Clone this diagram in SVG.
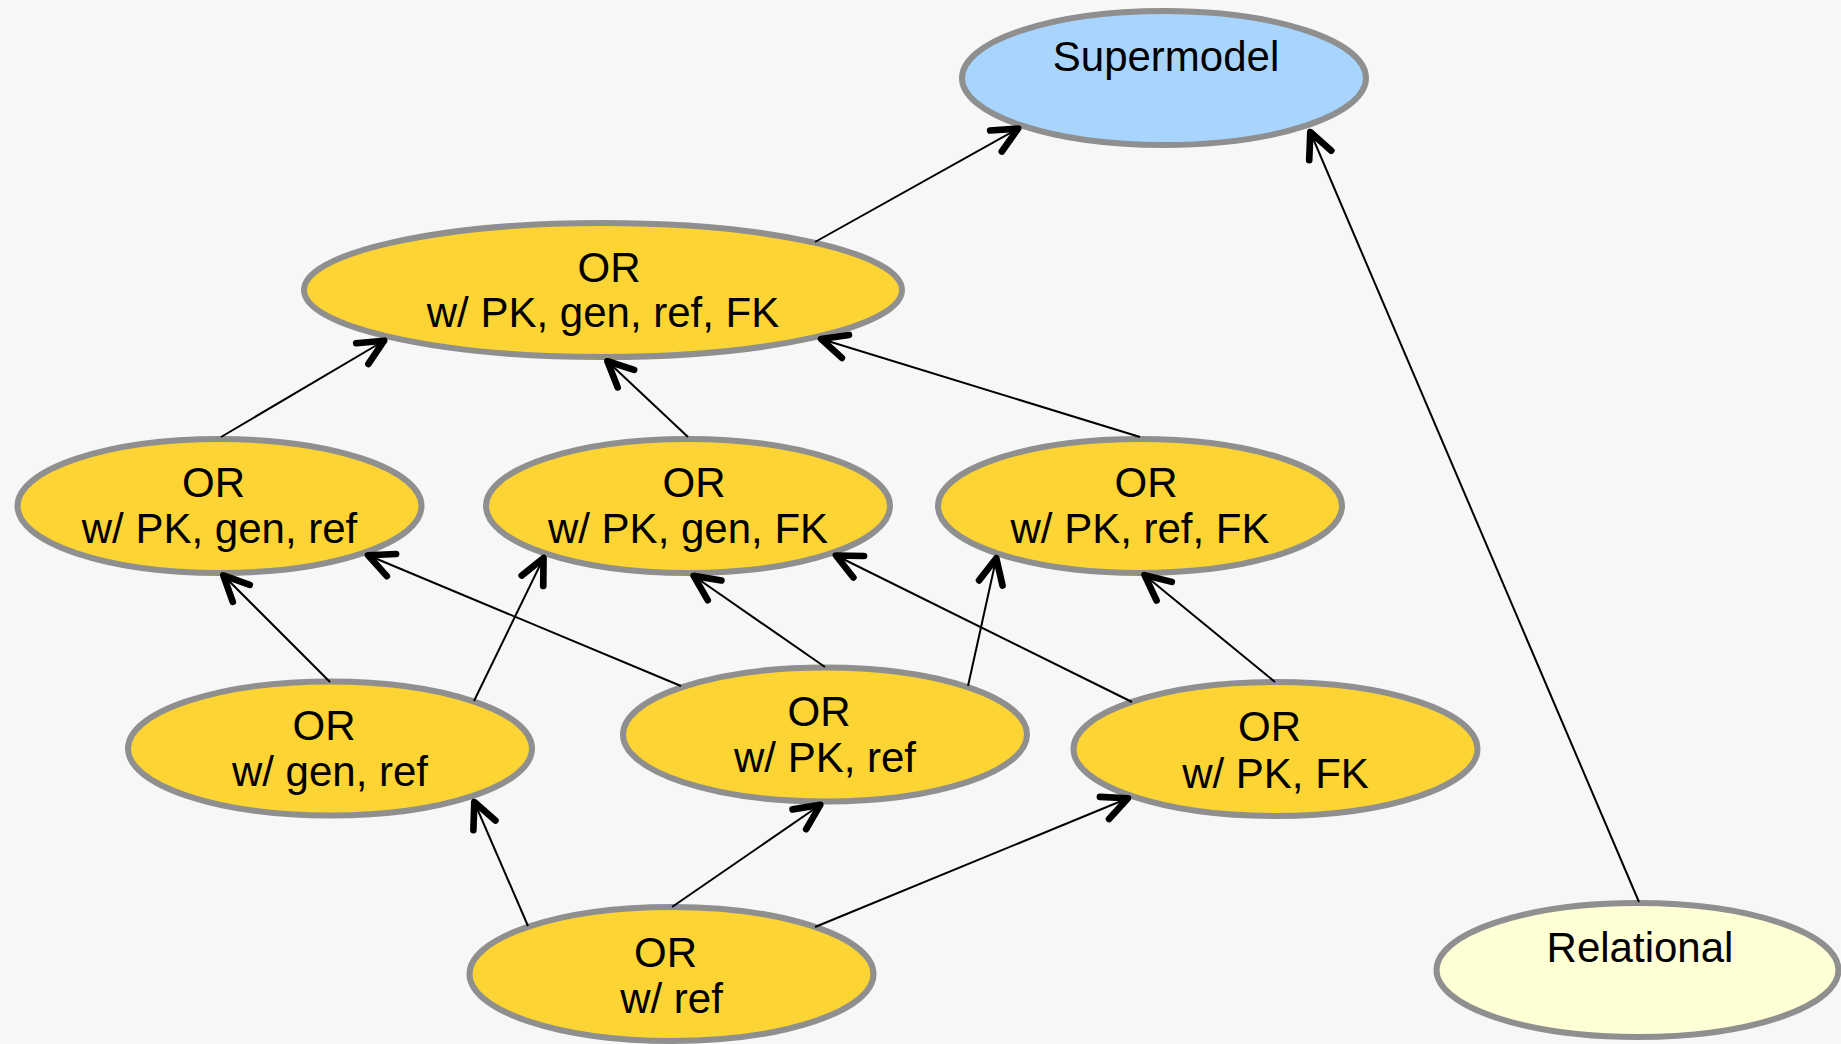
<svg xmlns="http://www.w3.org/2000/svg" width="1841" height="1044" viewBox="0 0 1841 1044">
  <style>
    .node ellipse { stroke: #8f8f8f; stroke-width: 6; }
    .or ellipse { fill: #fcd433; }
    .super ellipse { fill: #a8d5fe; }
    .rel ellipse { fill: #ffffd6; }
    .node text { font-family: "Liberation Sans", Arial, sans-serif; font-size: 42px; fill: #000; text-anchor: middle; }
    .edges line { stroke: #000; stroke-width: 2; marker-end: url(#open-arrow); }
  </style>
  <defs>
    <marker id="open-arrow" markerUnits="userSpaceOnUse" markerWidth="40" markerHeight="40" refX="2.5" refY="0" orient="auto" viewBox="-25 -15 30 30" overflow="visible">
      <path d="M -19 -9 L 0 0 L -19 9" fill="none" stroke="#000" stroke-width="5" stroke-linecap="round" stroke-linejoin="round"/>
    </marker>
  </defs>

  <rect width="1841" height="1044" fill="#f7f7f7"/>

  <g id="supermodel" class="node super">
    <ellipse cx="1164" cy="78" rx="202" ry="67"/>
    <text x="1166" y="71">Supermodel</text>
  </g>

  <g id="or-pk-gen-ref-fk" class="node or">
    <ellipse cx="603" cy="290" rx="299" ry="67"/>
    <text x="609" y="282">OR</text>
    <text x="603" y="327">w/ PK, gen, ref, FK</text>
  </g>

  <g id="or-pk-gen-ref" class="node or">
    <ellipse cx="219.5" cy="506" rx="202" ry="67"/>
    <text x="213.5" y="497">OR</text>
    <text x="219.5" y="543">w/ PK, gen, ref</text>
  </g>

  <g id="or-pk-gen-fk" class="node or">
    <ellipse cx="688" cy="506" rx="202" ry="67"/>
    <text x="694" y="497">OR</text>
    <text x="688" y="543">w/ PK, gen, FK</text>
  </g>

  <g id="or-pk-ref-fk" class="node or">
    <ellipse cx="1140" cy="506" rx="202" ry="67"/>
    <text x="1146" y="497">OR</text>
    <text x="1140" y="543">w/ PK, ref, FK</text>
  </g>

  <g id="or-gen-ref" class="node or">
    <ellipse cx="330" cy="748.5" rx="202" ry="67"/>
    <text x="324" y="740">OR</text>
    <text x="330" y="786">w/ gen, ref</text>
  </g>

  <g id="or-pk-ref" class="node or">
    <ellipse cx="825" cy="734.5" rx="202" ry="67"/>
    <text x="819" y="726">OR</text>
    <text x="825" y="772">w/ PK, ref</text>
  </g>

  <g id="or-pk-fk" class="node or">
    <ellipse cx="1275.5" cy="749" rx="202" ry="67"/>
    <text x="1269.5" y="741">OR</text>
    <text x="1275.5" y="788">w/ PK, FK</text>
  </g>

  <g id="or-ref" class="node or">
    <ellipse cx="671.5" cy="974" rx="202" ry="67"/>
    <text x="665.5" y="967">OR</text>
    <text x="671.5" y="1013">w/ ref</text>
  </g>

  <g id="relational" class="node rel">
    <ellipse cx="1637.5" cy="970" rx="201" ry="67"/>
    <text x="1640" y="962">Relational</text>
  </g>

  <g id="connectors" class="edges">
    <line x1="815" y1="242" x2="1021" y2="127"/>
    <line x1="1639" y1="902" x2="1309" y2="129"/>
    <line x1="221" y1="437" x2="387" y2="339"/>
    <line x1="688" y1="437" x2="605" y2="359"/>
    <line x1="1140" y1="437" x2="818" y2="338"/>
    <line x1="330" y1="682" x2="221" y2="573"/>
    <line x1="474" y1="701" x2="545" y2="555"/>
    <line x1="681" y1="686" x2="365" y2="554"/>
    <line x1="825" y1="667" x2="691" y2="574"/>
    <line x1="968" y1="686" x2="997" y2="555"/>
    <line x1="1132" y1="702" x2="833" y2="554"/>
    <line x1="1275" y1="682" x2="1142" y2="573"/>
    <line x1="528" y1="926" x2="473" y2="799"/>
    <line x1="672" y1="907" x2="823" y2="803"/>
    <line x1="815" y1="927" x2="1131" y2="797"/>
  </g>
</svg>
